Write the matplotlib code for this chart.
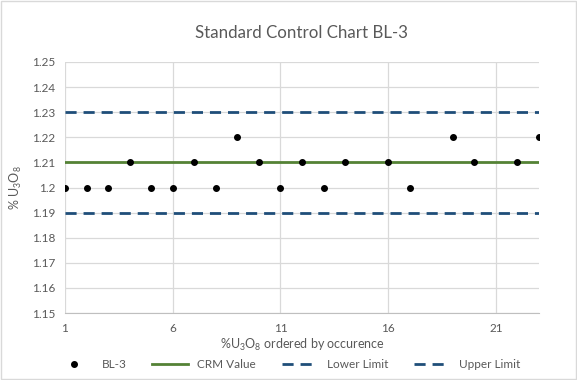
import numpy as np
import matplotlib
matplotlib.use("Agg")
import matplotlib.pyplot as plt
from matplotlib.ticker import FuncFormatter

plt.rcParams['font.family'] = ['Lato', 'DejaVu Sans']
plt.rcParams['mathtext.fontset'] = 'custom'
plt.rcParams['mathtext.rm'] = 'Lato'
plt.rcParams['mathtext.default'] = 'regular'

# data (missing runs left as NaN)
sample_no = list(range(1, 24))
bl3 = [1.20, 1.20, 1.20, 1.21, 1.20, 1.20, 1.21, 1.20, 1.22, 1.21, 1.20, 1.21,
       1.20, 1.21, np.nan, 1.21, 1.20, np.nan, 1.22, 1.21, np.nan, 1.21, 1.22]
crm_value = 1.21
lower_limit = 1.19
upper_limit = 1.23

grey = '#595959'

fig = plt.figure(figsize=(5.77, 3.80), dpi=100)
ax = fig.add_axes([65 / 577, 1 - 313 / 380, (539 - 65) / 577, (313 - 62) / 380])

# border around the whole chart, like the Excel chart area
fig.patches.append(plt.Rectangle((0.002, 0.003), 0.996, 0.994, transform=fig.transFigure,
                                 fill=False, edgecolor='#D9D9D9', linewidth=1))

ax.axhline(lower_limit, color='#1F4E79', linestyle=(0, (4, 2.5)), linewidth=2, label='Lower Limit', zorder=3)
ax.axhline(upper_limit, color='#1F4E79', linestyle=(0, (4, 2.5)), linewidth=2, label='Upper Limit', zorder=3)
ax.axhline(crm_value, color='#548235', linewidth=2, label='CRM Value', zorder=3)
ax.plot(sample_no, bl3, linestyle='none', marker='o', markersize=4, color='black', label='BL-3', zorder=4)

ax.set_xlim(1, 23)
ax.set_ylim(1.15, 1.25)
ax.set_xticks([1, 6, 11, 16, 21])
ax.set_yticks(np.arange(1.15, 1.2501, 0.01))
ax.yaxis.set_major_formatter(FuncFormatter(lambda v, p: f"{round(v, 2):g}"))

ax.grid(True, color='#D9D9D9', linewidth=0.9)
ax.set_axisbelow(True)
for s in ['top', 'right', 'left']:
    ax.spines[s].set_visible(False)
ax.spines['bottom'].set_color('#BFBFBF')
ax.tick_params(length=0, colors=grey, labelsize=8.5, pad=7)

ax.set_title('Standard Control Chart BL-3', fontsize=12.2, color=grey, pad=17)
ax.set_xlabel('%U$_3$O$_8$ ordered by occurence', fontsize=9, color=grey, labelpad=2)
ax.set_ylabel('% U$_3$O$_8$', fontsize=9, color=grey, labelpad=6)

handles, labels = ax.get_legend_handles_labels()
order = [labels.index(n) for n in ['BL-3', 'CRM Value', 'Lower Limit', 'Upper Limit']]
fig.legend([handles[i] for i in order], [labels[i] for i in order],
           loc='center', bbox_to_anchor=(0.5, 1 - 365 / 380), ncol=4, frameon=False,
           fontsize=8.5, labelcolor=grey, handlelength=3, columnspacing=2.2)

fig.savefig('out.png', dpi=100)
